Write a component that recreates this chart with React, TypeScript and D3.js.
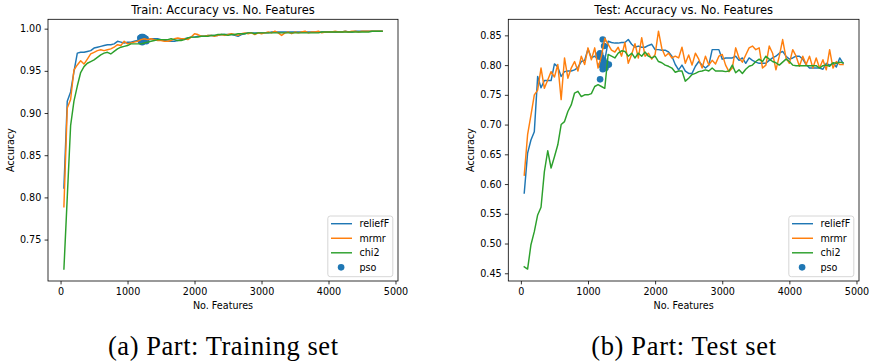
import { useEffect, useRef } from 'react';
import * as d3 from 'd3';

// number of selected features (x axis), same grid for every method
const features = [
  50, 100, 150, 200, 250, 300, 350, 400, 450, 500,
  550, 600, 650, 700, 750, 800, 850, 900, 950, 1000,
  1050, 1100, 1150, 1200, 1250, 1300, 1350, 1400, 1450, 1500,
  1550, 1600, 1650, 1700, 1750, 1800, 1850, 1900, 1950, 2000,
  2050, 2100, 2150, 2200, 2250, 2300, 2350, 2400, 2450, 2500,
  2550, 2600, 2650, 2700, 2750, 2800, 2850, 2900, 2950, 3000,
  3050, 3100, 3150, 3200, 3250, 3300, 3350, 3400, 3450, 3500,
  3550, 3600, 3650, 3700, 3750, 3800, 3850, 3900, 3950, 4000,
  4050, 4100, 4150, 4200, 4250, 4300, 4350, 4400, 4450, 4500,
  4550, 4600, 4650, 4700, 4750, 4800,
];

// --- training set ---
const trainRelief = [
  0.811, 0.914, 0.925, 0.949, 0.971, 0.972, 0.972, 0.973, 0.974, 0.977,
  0.978, 0.979, 0.980, 0.981, 0.981, 0.982, 0.985, 0.984, 0.983, 0.984,
  0.984, 0.985, 0.986, 0.987, 0.987, 0.987, 0.988, 0.988, 0.988, 0.987,
  0.986, 0.985, 0.985, 0.985, 0.986, 0.987, 0.988, 0.989, 0.990, 0.990,
  0.991, 0.991, 0.991, 0.992, 0.992, 0.992, 0.992, 0.993, 0.993, 0.993,
  0.993, 0.992, 0.991, 0.993, 0.994, 0.995, 0.995, 0.995, 0.995, 0.995,
  0.995, 0.995, 0.996, 0.996, 0.996, 0.996, 0.996, 0.996, 0.996, 0.996,
  0.996, 0.996, 0.996, 0.996, 0.996, 0.996, 0.996, 0.996, 0.996, 0.996,
  0.996, 0.996, 0.996, 0.996, 0.997, 0.996, 0.996, 0.997, 0.997, 0.997,
  0.997, 0.997, 0.997, 0.997, 0.997, 0.997,
];
const trainMrmr = [
  0.789, 0.906, 0.916, 0.951, 0.957, 0.962, 0.958, 0.964, 0.970, 0.972,
  0.974, 0.975, 0.974, 0.975, 0.976, 0.978, 0.981, 0.980, 0.985, 0.982,
  0.983, 0.984, 0.985, 0.987, 0.988, 0.987, 0.988, 0.987, 0.986, 0.986,
  0.985, 0.985, 0.986, 0.988, 0.989, 0.988, 0.988, 0.987, 0.990, 0.994,
  0.993, 0.991, 0.991, 0.992, 0.992, 0.991, 0.992, 0.993, 0.992, 0.993,
  0.994, 0.993, 0.992, 0.994, 0.995, 0.994, 0.995, 0.993, 0.995, 0.994,
  0.995, 0.996, 0.995, 0.997, 0.995, 0.992, 0.995, 0.996, 0.994, 0.996,
  0.995, 0.996, 0.997, 0.995, 0.996, 0.996, 0.997, 0.995, 0.996, 0.996,
  0.996, 0.997, 0.996, 0.996, 0.997, 0.996, 0.997, 0.997, 0.996, 0.997,
  0.997, 0.997, 0.997, 0.997, 0.997, 0.997,
];
const trainChi2 = [
  0.715, 0.800, 0.885, 0.914, 0.932, 0.948, 0.955, 0.959, 0.961, 0.963,
  0.966, 0.969, 0.971, 0.972, 0.970, 0.973, 0.976, 0.978, 0.979, 0.980,
  0.982, 0.982, 0.982, 0.982, 0.983, 0.984, 0.985, 0.986, 0.987, 0.987,
  0.987, 0.987, 0.988, 0.987, 0.986, 0.986, 0.987, 0.989, 0.990, 0.990,
  0.990, 0.991, 0.991, 0.991, 0.992, 0.992, 0.993, 0.993, 0.993, 0.992,
  0.993, 0.993, 0.994, 0.994, 0.994, 0.995, 0.995, 0.994, 0.995, 0.995,
  0.995, 0.995, 0.995, 0.995, 0.995, 0.995, 0.995, 0.995, 0.995, 0.995,
  0.995, 0.995, 0.995, 0.995, 0.995, 0.995, 0.995, 0.996, 0.996, 0.996,
  0.996, 0.996, 0.996, 0.996, 0.996, 0.996, 0.996, 0.996, 0.996, 0.996,
  0.996, 0.996, 0.997, 0.997, 0.997, 0.997,
];
const trainPsoX = [1190, 1210, 1230, 1250, 1270, 1200, 1220, 1260, 1280];
const trainPsoY = [0.989, 0.990, 0.990, 0.989, 0.988, 0.985, 0.984, 0.986, 0.985];
const trainYTicks = [0.75, 0.8, 0.85, 0.9, 0.95, 1.0];

// --- test set ---
const testRelief = [
  0.585, 0.652, 0.674, 0.688, 0.781, 0.762, 0.774, 0.774, 0.774, 0.802,
  0.797, 0.781, 0.789, 0.790, 0.790, 0.792, 0.796, 0.806, 0.808, 0.827,
  0.812, 0.815, 0.810, 0.812, 0.808, 0.840, 0.838, 0.837, 0.837, 0.838,
  0.838, 0.843, 0.835, 0.830, 0.832, 0.830, 0.830, 0.833, 0.835, 0.826,
  0.826, 0.825, 0.825, 0.822, 0.815, 0.801, 0.792, 0.800, 0.790, 0.786,
  0.786, 0.798, 0.806, 0.800, 0.795, 0.800, 0.826, 0.826, 0.826, 0.810,
  0.812, 0.812, 0.812, 0.815, 0.808, 0.812, 0.803, 0.812, 0.808, 0.805,
  0.803, 0.803, 0.803, 0.808, 0.812, 0.815, 0.820, 0.823, 0.815, 0.810,
  0.812, 0.815, 0.815, 0.810, 0.801, 0.795, 0.795, 0.795, 0.795, 0.793,
  0.803, 0.800, 0.803, 0.797, 0.812, 0.803,
];
const testMrmr = [
  0.615, 0.683, 0.716, 0.750, 0.758, 0.795, 0.761, 0.775, 0.789, 0.780,
  0.801, 0.742, 0.812, 0.778, 0.795, 0.806, 0.790, 0.815, 0.801, 0.829,
  0.809, 0.829, 0.795, 0.815, 0.845, 0.835, 0.825, 0.822, 0.830, 0.815,
  0.838, 0.803, 0.818, 0.836, 0.812, 0.846, 0.815, 0.820, 0.810, 0.818,
  0.857, 0.828, 0.815, 0.820, 0.812, 0.815, 0.812, 0.830, 0.803, 0.817,
  0.800, 0.820, 0.810, 0.795, 0.815, 0.800, 0.808, 0.802, 0.815, 0.818,
  0.800, 0.789, 0.795, 0.829, 0.812, 0.805, 0.817, 0.829, 0.832, 0.826,
  0.829, 0.795, 0.800, 0.832, 0.820, 0.792, 0.815, 0.843, 0.812, 0.803,
  0.826, 0.815, 0.798, 0.815, 0.801, 0.815, 0.795, 0.812, 0.795, 0.809,
  0.792, 0.826, 0.795, 0.806, 0.801, 0.801,
];
const testChi2 = [
  0.461, 0.457, 0.498, 0.520, 0.548, 0.561, 0.621, 0.656, 0.627, 0.646,
  0.666, 0.700, 0.705, 0.722, 0.733, 0.753, 0.756, 0.747, 0.750, 0.750,
  0.752, 0.764, 0.767, 0.764, 0.761, 0.818, 0.815, 0.812, 0.820, 0.824,
  0.823, 0.815, 0.820, 0.812, 0.820, 0.815, 0.822, 0.815, 0.812, 0.815,
  0.806, 0.804, 0.800, 0.798, 0.795, 0.788, 0.790, 0.790, 0.773, 0.778,
  0.784, 0.786, 0.789, 0.790, 0.792, 0.790, 0.795, 0.790, 0.790, 0.790,
  0.789, 0.790, 0.800, 0.787, 0.792, 0.786, 0.793, 0.798, 0.800, 0.806,
  0.810, 0.806, 0.815, 0.810, 0.806, 0.804, 0.800, 0.805, 0.810, 0.806,
  0.800, 0.799, 0.799, 0.799, 0.799, 0.799, 0.799, 0.799, 0.795, 0.799,
  0.800, 0.798, 0.804, 0.803, 0.805, 0.804,
];
const testPsoX = [1220, 1240, 1180, 1160, 1200, 1230, 1270, 1310, 1200, 1220, 1260, 1180, 1250, 1290];
const testPsoY = [0.843, 0.832, 0.820, 0.817, 0.813, 0.808, 0.803, 0.801, 0.800, 0.793, 0.795, 0.776, 0.800, 0.800];
const testYTicks = [0.45, 0.5, 0.55, 0.6, 0.65, 0.7, 0.75, 0.8, 0.85];

const xTicks = [0, 1000, 2000, 3000, 4000, 5000];
const methods = ['reliefF', 'mrmr', 'chi2'];
const colors = ['#1f77b4', '#ff7f0e', '#2ca02c'];
const FONT = '"DejaVu Sans", sans-serif';

// matplotlib style 5% margin around the data
function padded(ext: [number, number]): [number, number] {
  const m = (ext[1] - ext[0]) * 0.05;
  return [ext[0] - m, ext[1] + m];
}

function drawPanel(svg: any, p: any) {
  const top = 19.3;
  const bottom = 281;
  const g = svg.append('g');

  const x = d3.scaleLinear()
    .domain(padded(d3.extent(features) as [number, number]))
    .range([p.left, p.right]);
  const allY = [...p.series.flat(), ...p.psoY];
  const y = d3.scaleLinear()
    .domain(padded(d3.extent(allY) as [number, number]))
    .range([bottom, top]);

  // scatter sits under the lines (zorder 1 in matplotlib)
  g.append('g')
    .selectAll('circle')
    .data(p.psoX.map((v: number, i: number) => [v, p.psoY[i]]))
    .enter()
    .append('circle')
    .attr('cx', (d: number[]) => x(d[0]))
    .attr('cy', (d: number[]) => y(d[1]))
    .attr('r', 3.3)
    .attr('fill', colors[0]);

  const line = d3.line<number>()
    .x((_, i) => x(features[i]))
    .y(d => y(d));

  p.series.forEach((s: number[], i: number) => {
    g.append('path')
      .datum(s)
      .attr('fill', 'none')
      .attr('stroke', colors[i])
      .attr('stroke-width', 1.45)
      .attr('stroke-linejoin', 'round')
      .attr('stroke-linecap', 'square')
      .attr('d', line);
  });

  // axes
  const xAxis = g.append('g')
    .attr('transform', `translate(0,${bottom})`)
    .call(d3.axisBottom(x).tickValues(xTicks).tickFormat(d3.format('d')).tickSize(3.4).tickPadding(3.3));
  const yAxis = g.append('g')
    .attr('transform', `translate(${p.left},0)`)
    .call(d3.axisLeft(y).tickValues(p.yTicks).tickFormat(d3.format('.2f')).tickSize(3.4).tickPadding(3.3));
  [xAxis, yAxis].forEach(a => {
    a.select('.domain').remove();
    a.selectAll('line').attr('stroke', '#000').attr('stroke-width', 0.8);
    a.selectAll('text').attr('font-family', FONT).attr('font-size', 9.6).attr('fill', '#000');
  });

  g.append('rect')
    .attr('x', p.left)
    .attr('y', top)
    .attr('width', p.right - p.left)
    .attr('height', bottom - top)
    .attr('fill', 'none')
    .attr('stroke', '#000')
    .attr('stroke-width', 0.8);

  const cx = (p.left + p.right) / 2;
  g.append('text')
    .attr('x', cx).attr('y', 13.5)
    .attr('text-anchor', 'middle')
    .attr('font-family', FONT).attr('font-size', 11.5)
    .text(p.title);
  g.append('text')
    .attr('x', cx).attr('y', 309)
    .attr('text-anchor', 'middle')
    .attr('font-family', FONT).attr('font-size', 9.6)
    .text('No. Features');
  g.append('text')
    .attr('transform', `translate(${p.ylabelX},${(top + bottom) / 2}) rotate(-90)`)
    .attr('text-anchor', 'middle')
    .attr('font-family', FONT).attr('font-size', 9.6)
    .text('Accuracy');

  // legend (lower right)
  const lw = 65;
  const lh = 60.7;
  const lx = p.right - 5.2 - lw;
  const ly = bottom - 4.3 - lh;
  const leg = g.append('g').attr('transform', `translate(${lx},${ly})`);
  leg.append('rect')
    .attr('width', lw).attr('height', lh)
    .attr('rx', 2.5)
    .attr('fill', '#fff').attr('fill-opacity', 0.8)
    .attr('stroke', '#cccccc').attr('stroke-width', 0.8);
  const labels = [...methods, 'pso'];
  labels.forEach((name, i) => {
    const ry = 7.7 + i * 14.55;
    if (i < 3) {
      leg.append('line')
        .attr('x1', 3.2).attr('x2', 24.2)
        .attr('y1', ry).attr('y2', ry)
        .attr('stroke', colors[i]).attr('stroke-width', 1.45);
    } else {
      leg.append('circle')
        .attr('cx', 13.3).attr('cy', ry).attr('r', 3.3)
        .attr('fill', colors[0]);
    }
    leg.append('text')
      .attr('x', 31.6).attr('y', ry + 3.5)
      .attr('font-family', FONT).attr('font-size', 9.6)
      .text(name);
  });

  // sub-figure caption
  g.append('text')
    .attr('x', cx).attr('y', 355)
    .attr('text-anchor', 'middle')
    .attr('font-family', '"Liberation Serif", "DejaVu Serif", serif')
    .attr('font-size', 26.5)
    .attr('textLength', p.captionWidth)
    .attr('lengthAdjust', 'spacing')
    .text(p.caption);
}

export default function App() {
  const svgRef = useRef<SVGSVGElement>(null);

  useEffect(() => {
    document.body.style.margin = '0';
    const svg = d3.select(svgRef.current);
    svg.selectAll('*').remove();

    drawPanel(svg, {
      left: 48, right: 398, ylabelX: 13.8,
      series: [trainRelief, trainMrmr, trainChi2],
      psoX: trainPsoX, psoY: trainPsoY,
      yTicks: trainYTicks,
      title: 'Train: Accuracy vs. No. Features',
      caption: '(a) Part: Training set', captionWidth: 230,
    });
    drawPanel(svg, {
      left: 508.3, right: 859, ylabelX: 474,
      series: [testRelief, testMrmr, testChi2],
      psoX: testPsoX, psoY: testPsoY,
      yTicks: testYTicks,
      title: 'Test: Accuracy vs. No. Features',
      caption: '(b) Part: Test set', captionWidth: 185,
    });
  }, []);

  return <svg ref={svgRef} width={874} height={364} style={{ display: 'block', background: '#fff' }} />;
}
